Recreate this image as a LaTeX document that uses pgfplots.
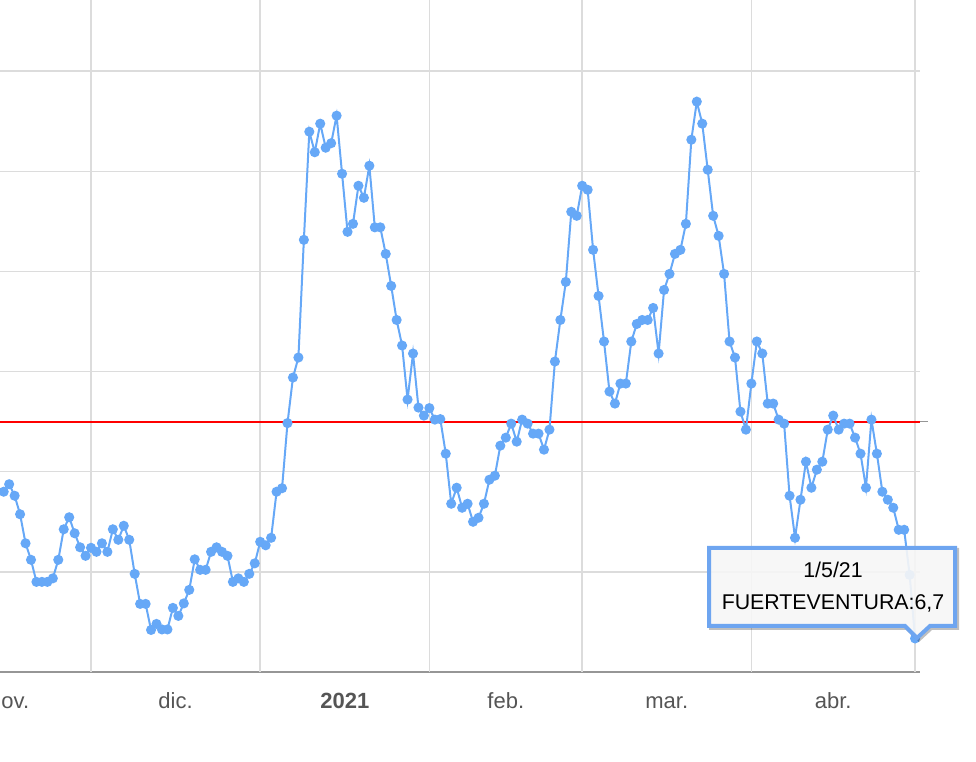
\documentclass[border=0pt]{standalone}
\usepackage{fontspec}
\setmainfont{Liberation Sans}
\usepackage{pgfplots}
\usepackage{pgfplotstable}
\pgfplotsset{compat=1.18}
\definecolor{serie}{RGB}{102,168,247}
\definecolor{gridc}{RGB}{220,220,220}
\definecolor{axc}{RGB}{150,150,150}
\definecolor{lab}{RGB}{85,85,85}
\definecolor{tipb}{RGB}{110,165,240}
\definecolor{thr}{RGB}{255,0,0}

\pgfplotstableread{
d v
-48 36.0
-47 36.0
-46 37.5
-45 35.2
-44 31.5
-43 25.7
-42 22.4
-41 18.0
-40 18.0
-39 18.0
-38 18.7
-37 22.4
-36 28.5
-35 30.9
-34 27.7
-33 24.9
-32 23.2
-31 24.8
-30 24.0
-29 25.7
-28 24.0
-27 28.5
-26 26.4
-25 29.2
-24 26.4
-23 19.6
-22 13.6
-21 13.6
-20 8.4
-19 9.6
-18 8.5
-17 8.5
-16 12.8
-15 11.2
-14 13.7
-13 16.4
-12 22.5
-11 20.4
-10 20.4
-9 24.0
-8 24.9
-7 24.0
-6 23.2
-5 18.0
-4 18.7
-3 18.0
-2 19.6
-1 21.7
0 26.0
1 25.3
2 26.8
3 36.0
4 36.7
5 49.7
6 58.8
7 62.8
8 86.3
9 107.9
10 103.8
11 109.5
12 104.7
13 105.6
14 111.1
15 99.5
16 87.9
17 89.5
18 97.1
19 94.7
20 101.1
21 88.8
22 88.8
23 83.5
24 77.1
25 70.3
26 65.2
27 54.4
28 63.6
29 52.8
30 51.2
31 52.7
32 50.4
33 50.5
34 43.6
35 33.6
36 36.8
37 32.8
38 33.6
39 30.0
40 30.8
41 33.6
42 38.4
43 39.2
44 45.2
45 46.8
46 49.6
47 46.0
48 50.4
49 49.6
50 47.6
51 47.6
52 44.4
53 48.4
54 62.0
55 70.3
56 77.9
57 91.9
58 91.1
59 97.1
60 96.3
61 84.3
62 75.1
63 66.0
64 56.0
65 53.6
66 57.6
67 57.6
68 66.0
69 69.5
70 70.3
71 70.3
72 72.7
73 63.6
74 76.3
75 79.5
76 83.5
77 84.3
78 89.5
79 106.3
80 113.9
81 109.5
82 100.3
83 91.1
84 87.1
85 79.5
86 66.0
87 62.8
88 52.0
89 48.4
90 57.6
91 66.0
92 63.6
93 53.6
94 53.6
95 50.4
96 49.6
97 35.2
98 26.8
99 34.4
100 42.0
101 36.8
102 40.4
103 42.0
104 48.4
105 51.2
106 48.4
107 49.6
108 49.6
109 46.8
110 43.6
111 36.8
112 50.4
113 43.6
114 36.0
115 34.4
116 32.8
117 28.4
118 28.4
119 19.4
120 6.7
}\datatable

\pgfplotstableread{
d v
-48 50
120.9 50
}\thrtable

\begin{document}
\begin{tikzpicture}[x=0.75pt,y=0.75pt]
\useasboundingbox (0,0) rectangle (976,-762);
\begin{scope}
\clip (0,0) rectangle (976,-762);
\begin{axis}[
  at={(0,0)}, anchor=north west,
  scale only axis, width=690pt, height=504pt,
  xmin=-47.68, xmax=120.9, ymin=0, ymax=134.2,
  axis x line*=bottom,
  axis y line*=left,
  x axis line style={-, draw=axc, line width=1.5pt},
  y axis line style={draw=none},
  ytick={20,40,60,80,100,120}, yticklabels={},
  ytick style={draw=none},
  ymajorgrids=true,
  xtick={-46,-15.5,15.5,45,74.5,105},
  xticklabels={nov.,dic.,\textbf{2021},feb.,mar.,abr.},
  xtick style={draw=none},
  tick align=outside,
  major tick length=7.5pt,
  extra x ticks={-31,0,31,59,90,120},
  extra x tick labels={},
  extra x tick style={grid=major, tick style={draw=axc, line width=1.2pt}},
  major grid style={draw=gridc, line width=1.1pt},
  xticklabel style={anchor=base, yshift=-20pt, font=\fontsize{16.5}{18}\selectfont, text=lab},
]
\addplot+ [color=thr, solid, line width=1.6pt, no markers] table [x=d, y=v] {\thrtable};
\addplot [draw=serie, line width=1.5pt, mark=*, mark size=3pt, mark options={fill=serie, draw=serie}] table [x=d, y=v] {\datatable};
\coordinate (r1) at (axis cs:120.9,50);
\end{axis}
\end{scope}
\draw [axc, line width=1.2pt] (r1) -- ++(8,0);
% tooltip
\path [fill=black, fill opacity=0.25, shift={(2,-2)}]
  (707,-546) -- (957,-546) -- (957,-628) -- (930,-628) -- (917,-640) -- (904,-628) -- (707,-628) -- cycle;
\path [fill=white, fill opacity=0.88, draw=tipb, draw opacity=1, line width=3pt, line join=miter]
  (709,-548) -- (955,-548) -- (955,-626) -- (930,-626) -- (917,-638) -- (905,-626) -- (709,-626) -- cycle;
\node [anchor=base, inner sep=0pt, font=\fontsize{16}{18}\selectfont] at (833,-578) {1/5/21};
\node [anchor=base, inner sep=0pt, font=\fontsize{16}{18}\selectfont] at (833,-610) {FUERTEVENTURA:6,7};
\end{tikzpicture}
\end{document}
